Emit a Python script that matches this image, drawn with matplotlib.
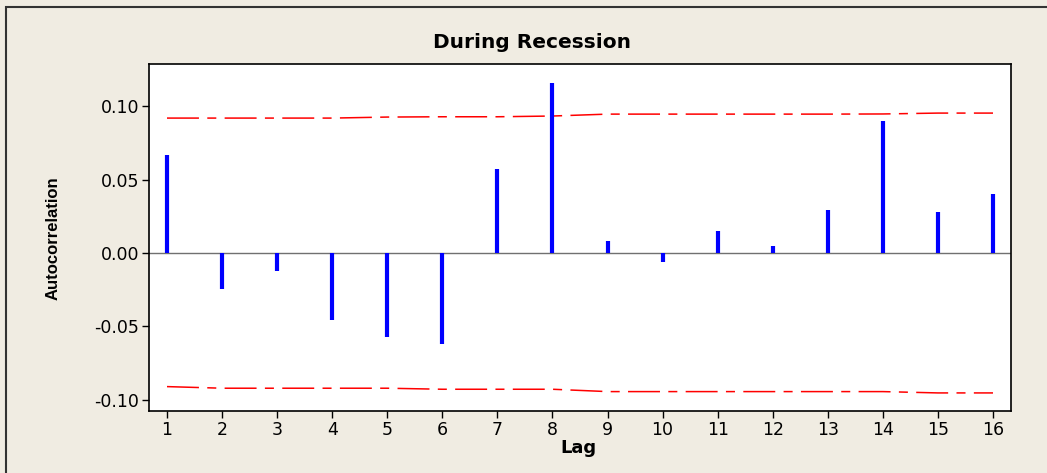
import matplotlib
matplotlib.use("Agg")
import matplotlib.pyplot as plt
from matplotlib.patches import Rectangle

lags = list(range(1, 17))
acf = [0.0667, -0.0245, -0.0122, -0.0456, -0.0570, -0.0620, 0.0570, 0.1157,
       0.0080, -0.0060, 0.0150, 0.0048, 0.0290, 0.0900, 0.0279, 0.0400]
upper = [0.0918, 0.0918, 0.0918, 0.0918, 0.0925, 0.0927, 0.0927, 0.0932,
         0.0945, 0.0945, 0.0945, 0.0945, 0.0945, 0.0946, 0.0952, 0.0952]
lower = [-0.0909, -0.0920, -0.0920, -0.0920, -0.0920, -0.0927, -0.0927, -0.0927,
         -0.0943, -0.0943, -0.0943, -0.0943, -0.0943, -0.0943, -0.0952, -0.0952]
yticks = [-0.10, -0.05, 0.00, 0.05, 0.10]

plt.rcParams['lines.scale_dashes'] = False
bg = '#f0ece2'

fig = plt.figure(figsize=(10.47, 4.73), dpi=100, facecolor=bg)
fig.patches.append(Rectangle((6 / 1047, -0.05), 1.1, 1 - 7 / 473 + 0.05,
                             transform=fig.transFigure, fill=False,
                             edgecolor='#333333', lw=1.5))

ax = fig.add_axes([149 / 1047, 1 - 411 / 473, 862 / 1047, 347 / 473])
ax.set_facecolor('white')

ax.axhline(0, color='#707070', lw=1.0, zorder=1)
ax.vlines(lags, 0, acf, color='#0000ff', lw=3.0, zorder=3)
dash = (0, (23, 6, 6.5, 6))
ax.plot(lags, upper, color='red', lw=1.1, linestyle=dash, zorder=2)
ax.plot(lags, lower, color='red', lw=1.1, linestyle=dash, zorder=2)

ax.set_xlim(0.673, 16.327)
ax.set_ylim(-0.1075, 0.1286)
ax.set_xticks(lags)
ax.set_yticks(yticks)
ax.set_yticklabels(['%.2f' % v for v in yticks])
ax.tick_params(direction='out', length=5, width=1, labelsize=12.5,
               colors='black', pad=2)
for s in ax.spines.values():
    s.set_color('black')
    s.set_linewidth(1.2)

fig.text(532 / 1047, 1 - 42 / 473, 'During Recession', ha='center', va='center',
         fontsize=14.5, fontweight='bold')
fig.text(578 / 1047, 1 - 448 / 473, 'Lag', ha='center', va='center',
         fontsize=13, fontweight='bold')
fig.text(53 / 1047, 1 - 238 / 473, 'Autocorrelation', ha='center', va='center',
         rotation=90, fontsize=12, fontweight='bold',
         family=['Liberation Sans Narrow', 'Liberation Sans', 'DejaVu Sans'])

fig.savefig('out.png', dpi=100, facecolor=bg)
